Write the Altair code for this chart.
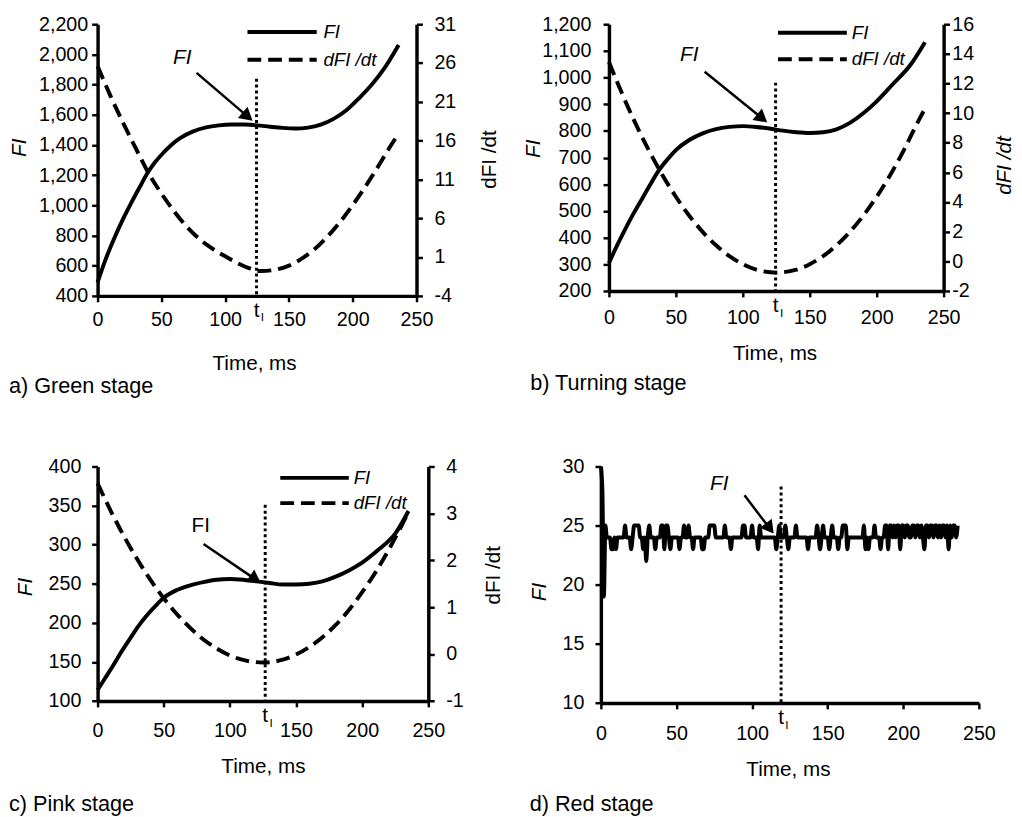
import math
import altair as alt
import pandas as pd

FONT = "Liberation Sans"
X_TICKS = [0, 50, 100, 150, 200, 250]
SERIES = ["FI", "dFI /dt"]

# ---------------- a) Green stage ----------------
A_FI_T = [0, 6, 13, 20, 26, 33, 39, 45, 52, 58, 65, 75, 85, 95, 105, 115, 125, 135, 145, 155, 165, 175, 185, 195, 205, 215, 225, 236]
A_FI = [489, 635, 780, 910, 1010, 1120, 1212, 1285, 1352, 1402, 1447, 1490, 1516, 1530, 1536, 1535, 1530, 1521, 1513, 1509, 1515, 1535, 1573, 1630, 1710, 1800, 1911, 2063]
A_D_T = [0, 10, 20, 30, 40, 50, 60, 70, 80, 90, 100, 110, 120, 128, 140, 150, 160, 170, 180, 190, 200, 210, 220, 230, 236]
A_D = [25.6, 21.8, 18.3, 15.0, 11.8, 9.2, 6.9, 4.9, 3.3, 2.1, 1.1, 0.2, -0.5, -0.8, -0.6, -0.1, 0.8, 2.0, 3.6, 5.5, 7.7, 10.1, 12.7, 15.4, 16.9]
A_FI_TICKS = [400, 600, 800, 1000, 1200, 1400, 1600, 1800, 2000, 2200]
A_D_TICKS = [-4, 1, 6, 11, 16, 21, 26, 31]

# ---------------- b) Turning stage ----------------
B_FI_T = [0, 6, 12, 18, 25, 31, 37, 44, 50, 60, 70, 80, 90, 100, 110, 120, 130, 140, 150, 160, 170, 180, 190, 200, 212, 225, 236]
B_FI = [305, 370, 430, 487, 548, 600, 650, 695, 728, 766, 791, 807, 815, 818, 815, 809, 801, 795, 792, 795, 806, 830, 866, 911, 975, 1046, 1132]
B_D_T = [0, 10, 20, 30, 40, 50, 60, 70, 80, 90, 100, 110, 125, 140, 150, 160, 170, 180, 190, 200, 210, 220, 230, 236]
B_D = [13.45, 11.27, 9.27, 7.45, 5.81, 4.36, 3.08, 1.99, 1.08, 0.35, -0.19, -0.56, -0.76, -0.56, -0.19, 0.35, 1.08, 1.99, 3.08, 4.36, 5.81, 7.45, 9.27, 10.3]
B_FI_TICKS = [200, 300, 400, 500, 600, 700, 800, 900, 1000, 1100, 1200]
B_D_TICKS = [-2, 0, 2, 4, 6, 8, 10, 12, 14, 16]

# ---------------- c) Pink stage ----------------
C_FI_T = [0, 6, 12, 18, 25, 31, 37, 44, 50, 60, 70, 80, 90, 100, 110, 120, 130, 140, 150, 160, 170, 180, 190, 200, 212, 225, 235]
C_FI = [114, 130, 146, 163, 181, 196, 209, 222, 232, 242, 248, 252, 255, 256, 255, 253, 251, 249, 249, 250, 253, 259, 267, 277, 293, 314, 343]
C_D_T = [0, 10, 20, 30, 40, 50, 60, 70, 80, 90, 100, 110, 125, 140, 150, 160, 170, 180, 190, 200, 210, 220, 230, 234]
C_D = [3.64, 3.05, 2.51, 2.02, 1.58, 1.19, 0.85, 0.56, 0.31, 0.12, -0.03, -0.125, -0.18, -0.12, -0.01, 0.15, 0.36, 0.62, 0.94, 1.32, 1.74, 2.22, 2.75, 2.97]
C_FI_TICKS = [100, 150, 200, 250, 300, 350, 400]
C_D_TICKS = [-1, 0, 1, 2, 3, 4]

# ---------------- d) Red stage (1 ms samples) ----------------
D_FI = [
    30, 28, 19, 25, 24, 24, 24, 23, 23, 24,
    23, 24, 24, 24, 24, 24, 25, 24, 24, 24,
    23, 24, 25, 25, 25, 25, 24, 24, 23, 24,
    22, 24, 25, 24, 24, 24, 23, 24, 24, 24,
    25, 25, 23, 25, 25, 24, 23, 24, 24, 24,
    24, 24, 23, 24, 24, 25, 24, 24, 25, 24,
    24, 23, 24, 24, 24, 24, 24, 23, 23, 24,
    24, 24, 25, 25, 25, 25, 24, 24, 24, 24,
    24, 24, 25, 24, 24, 24, 23, 24, 24, 24,
    24, 24, 24, 24, 25, 25, 24, 24, 24, 24,
    25, 24, 24, 24, 23, 25, 24, 24, 24, 24,
    24, 24, 24, 24, 24, 24, 23, 24, 25, 24,
    24, 24, 25, 24, 23, 24, 24, 24, 24, 25,
    24, 24, 24, 24, 24, 24, 24, 23, 24, 24,
    24, 24, 24, 25, 24, 23, 24, 25, 24, 24,
    24, 23, 24, 25, 24, 24, 24, 23, 24, 24,
    25, 25, 25, 23, 24, 24, 24, 24, 24, 24,
    24, 24, 24, 24, 25, 23, 24, 23, 24, 24,
    24, 25, 24, 24, 24, 23, 24, 24, 25, 25,
    23, 25, 25, 24, 25, 24, 25, 25, 23, 25,
    25, 24, 25, 25, 24, 24, 25, 25, 24, 25,
    25, 24, 25, 24, 23, 25, 25, 24, 25, 25,
    24, 25, 25, 24, 25, 24, 25, 25, 24, 25,
    23, 25, 24, 25, 25, 24, 25,
]
D_FI_T = list(range(len(D_FI)))
D_FI_TICKS = [10, 15, 20, 25, 30]

# annotations (data units): note text, arrow (x1, y1, x2, y2), t_I position and top of dotted line
NOTES = {
    "a": dict(note=(66.4, 1976), arrow=(77.6, 1878, 120.2, 1570), ti=124.6, ti_top=1839),
    "b": dict(note=(60.0, 1083), arrow=(71.5, 1022, 117.0, 837), ti=124.5, ti_top=981),
    "c": dict(note=(78.0, 324), arrow=(80.1, 300.7, 122.0, 252.5), ti=126.7, ti_top=351),
    "d": dict(note=(78.3, 28.5), arrow=(95.0, 27.56, 113.4, 24.47), ti=119.2, ti_top=28.3),
}
# legend key (data units): line from x1 to x2, label at xt, rows at y values (FI, dFI /dt)
LEGENDS = {
    "a": dict(x1=117.5, x2=171.8, xt=177.0, y=[2148, 1965]),
    "b": dict(x1=126.3, x2=177.7, xt=181.4, y=[1168, 1069]),
    "c": dict(x1=138.1, x2=189.9, xt=193.6, y=[385.4, 353.1]),
}
CAPTIONS = {"a": "a) Green stage", "b": "b) Turning stage", "c": "c) Pink stage", "d": "d) Red stage"}

HEAD_SIZE = 230
LW = 4
DASH = [14, 7]


def axis_style():
    return dict(labelFont=FONT, labelFontSize=20, labelColor="black",
                titleFont=FONT, titleFontSize=21, titleFontWeight="normal", titleColor="black",
                domainColor="black", domainWidth=3.5, tickColor="black", tickWidth=2.5, tickSize=6,
                grid=False, labelOverlap=False, labelFlush=False, titleBaseline="middle")


def arrow_geom(x1, y1, x2, y2, W, H, ydom):
    sx = W / 250.0
    sy = H / (ydom[1] - ydom[0])
    dxp = (x2 - x1) * sx
    dyp = -(y2 - y1) * sy
    L = math.hypot(dxp, dyp)
    ux, uy = dxp / L, dyp / L
    ang = math.degrees(math.atan2(ux, -uy)) % 360
    h = math.sqrt(3) / 2 * math.sqrt(HEAD_SIZE) / 2
    return ang, x2 - h * ux / sx, y2 + h * uy / sy


def make_panel(key, W, H, fi_t, fi_v, fi_dom, fi_ticks, lay, d_t=None, d_v=None, d_dom=None, d_ticks=None):
    st = axis_style()
    xaxis = alt.Axis(values=X_TICKS, title="Time, ms", titleX=W / 2 + lay["xtdx"], titleY=lay["xty"],
                     labelPadding=lay["xlp"], **st)
    X = alt.X("t:Q", scale=alt.Scale(domain=[0, 250], nice=False, zero=False), axis=xaxis)
    yaxis = alt.Axis(values=fi_ticks, format=",.0f", title="FI", titleFontStyle="italic",
                     titleX=lay["ytx"], titleY=lay["yty"], labelPadding=lay["ylp"], **st)
    Y = alt.Y("FI:Q", scale=alt.Scale(domain=fi_dom, nice=False, zero=False), axis=yaxis)

    fi_df = pd.DataFrame({"t": fi_t, "FI": fi_v})
    fi_line = alt.Chart(fi_df).mark_line(color="black", strokeWidth=LW, interpolate="monotone",
                                         strokeCap="butt").encode(x=X, y=Y)

    n = NOTES[key]
    note_df = pd.DataFrame({"t": [n["note"][0]], "FI": [n["note"][1]], "label": ["FI"]})
    note = alt.Chart(note_df).mark_text(font=FONT, fontSize=21, color="black",
                                        fontStyle=lay["note_style"]).encode(x=X, y=Y, text="label:N")
    x1, y1, x2, y2 = n["arrow"]
    ang, cx, cy = arrow_geom(x1, y1, x2, y2, W, H, fi_dom)
    arr_df = pd.DataFrame({"t": [x1], "FI": [y1], "t2": [cx], "FI2": [cy]})
    arr = alt.Chart(arr_df).mark_rule(color="black", strokeWidth=2.5).encode(x=X, y=Y, x2="t2:Q", y2="FI2:Q")
    head_df = pd.DataFrame({"t": [cx], "FI": [cy]})
    head = alt.Chart(head_df).mark_point(shape="triangle", filled=True, size=HEAD_SIZE, color="black",
                                         opacity=1, angle=ang).encode(x=X, y=Y)
    dot_df = pd.DataFrame({"t": [n["ti"]], "FI": [n["ti_top"]], "FI2": [fi_dom[0]]})
    dot = alt.Chart(dot_df).mark_rule(color="black", strokeWidth=3, strokeDash=[3, 3]).encode(x=X, y=Y, y2="FI2:Q")
    ti_df = pd.DataFrame({"t": [n["ti"]], "lab": ["t"], "sub": ["I"]})
    ti_t = alt.Chart(ti_df).mark_text(font=FONT, fontSize=21, color="black", baseline="alphabetic").encode(
        x=X, y=alt.value(H + 21), text="lab:N")
    ti_s = alt.Chart(ti_df).mark_text(font=FONT, fontSize=12, color="black", baseline="alphabetic", dx=6).encode(
        x=X, y=alt.value(H + 26), text="sub:N")

    layers = [fi_line, note, arr, head, dot, ti_t, ti_s]

    if key in LEGENDS:
        lg = LEGENDS[key]
        k_solid = pd.DataFrame({"t": [lg["x1"]], "t2": [lg["x2"]], "FI": [lg["y"][0]], "name": [SERIES[0]], "tt": [lg["xt"]]})
        k_dash = pd.DataFrame({"t": [lg["x1"]], "t2": [lg["x2"]], "FI": [lg["y"][1]], "name": [SERIES[1]], "tt": [lg["xt"]]})
        layers.append(alt.Chart(k_solid).mark_rule(color="black", strokeWidth=LW, strokeCap="butt").encode(
            x=X, x2="t2:Q", y=Y))
        layers.append(alt.Chart(k_dash).mark_rule(color="black", strokeWidth=LW, strokeCap="butt",
                                                  strokeDash=DASH).encode(x=X, x2="t2:Q", y=Y))
        keys = pd.concat([k_solid, k_dash])
        layers.append(alt.Chart(keys).mark_text(font=FONT, fontSize=19, fontStyle="italic", color="black",
                                                align="left", baseline="middle").encode(
            x=alt.X("tt:Q", scale=alt.Scale(domain=[0, 250], nice=False, zero=False), axis=xaxis), y=Y,
            text="name:N"))

    inner = alt.layer(*layers)

    title = alt.TitleParams(text=CAPTIONS[key], orient="bottom", anchor="start", frame="group",
                            dx=lay["cdx"], offset=lay["coff"], font=FONT, fontSize=22,
                            fontWeight="normal", color="black")
    if d_t is None:
        return inner.properties(width=W, height=H, title=title)

    raxis = alt.Axis(values=d_ticks, labelExpr="'' + datum.value", orient="right", title="dFI /dt",
                     titleFontStyle=lay["rstyle"], titleAngle=270, titleX=lay["rtx"], titleY=lay["rty"],
                     labelPadding=lay["rlp"], **st)
    d_df = pd.DataFrame({"t": d_t, "dFI": d_v})
    d_line = alt.Chart(d_df).mark_line(color="black", strokeWidth=LW, interpolate="monotone",
                                       strokeCap="butt", strokeDash=DASH).encode(
        x=X, y=alt.Y("dFI:Q", scale=alt.Scale(domain=d_dom, nice=False, zero=False), axis=raxis))
    return alt.layer(inner, d_line).resolve_scale(y="independent").properties(width=W, height=H, title=title)


LAY_A = dict(xtdx=-3, xty=69, xlp=8, ytx=-79.5, yty=125, ylp=4, rtx=74.5, rty=137, rlp=11.7, rstyle="normal",
             note_style="italic", cdx=-90, coff=3)
LAY_B = dict(xtdx=-1.7, xty=63.6, xlp=10.7, ytx=-76.7, yty=126, ylp=12.3, rtx=61.5, rty=143, rlp=2.3,
             rstyle="italic", note_style="italic", cdx=-80, coff=10)
LAY_C = dict(xtdx=0, xty=66.5, xlp=13.9, ytx=-73, yty=122, ylp=11, rtx=66.7, rty=110, rlp=11.7, rstyle="normal",
             note_style="normal", cdx=-90, coff=18)
LAY_D = dict(xtdx=-2, xty=68, xlp=14.7, ytx=-62.3, yty=127, ylp=11.3, note_style="italic", cdx=-72.3, coff=15)

pa = make_panel("a", 324, 276, A_FI_T, A_FI, [400, 2200], A_FI_TICKS, LAY_A, A_D_T, A_D, [-4, 31], A_D_TICKS)
pb = make_panel("b", 340, 271, B_FI_T, B_FI, [200, 1200], B_FI_TICKS, LAY_B, B_D_T, B_D, [-2, 16], B_D_TICKS)
pc = make_panel("c", 336, 238.2, C_FI_T, C_FI, [100, 400], C_FI_TICKS, LAY_C, C_D_T, C_D, [-1, 4], C_D_TICKS)
pd_ = make_panel("d", 384, 240.2, D_FI_T, D_FI, [10, 30], D_FI_TICKS, LAY_D)

row1 = alt.hconcat(pa, pb, spacing=22.5)
row2 = alt.hconcat(pc, pd_, spacing=24.3)
chart = alt.vconcat(row1, row2, spacing=60.3).properties(
    padding={"left": 0, "top": 0, "right": 0, "bottom": 0}, background="white"
).configure_view(stroke=None)

chart.save("out.html", embed_options={"renderer": "svg", "actions": False})
